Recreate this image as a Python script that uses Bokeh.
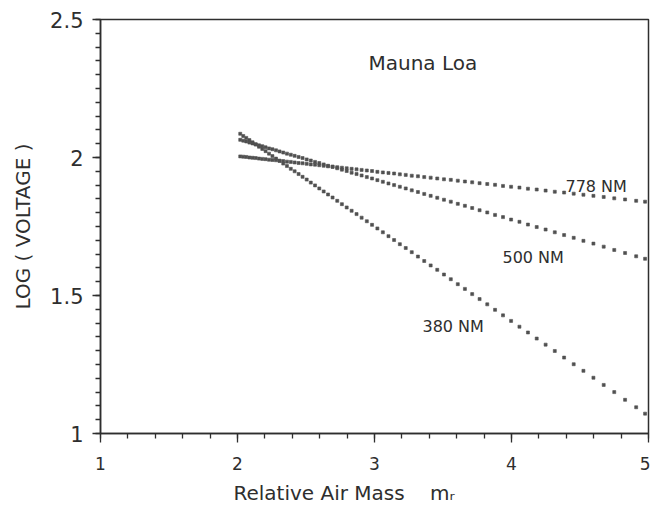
from bokeh.plotting import figure
from bokeh.models import Range1d, SingleIntervalTicker, FixedTicker, Label, Title
from bokeh.embed import file_html
from bokeh.resources import INLINE

# Relative air mass of each observation (x)
air_mass = [2.020, 2.042, 2.064, 2.087, 2.110, 2.133, 2.157, 2.181, 2.205, 2.230,
            2.255, 2.281, 2.307, 2.334, 2.361, 2.389, 2.417, 2.446, 2.475, 2.505,
            2.535, 2.566, 2.597, 2.629, 2.661, 2.694, 2.728, 2.762, 2.797, 2.833,
            2.869, 2.906, 2.944, 2.982, 3.021, 3.061, 3.102, 3.143, 3.185, 3.228,
            3.272, 3.317, 3.363, 3.410, 3.458, 3.507, 3.557, 3.608, 3.660, 3.713,
            3.767, 3.823, 3.880, 3.938, 3.997, 4.058, 4.120, 4.184, 4.249, 4.316,
            4.384, 4.454, 4.525, 4.598, 4.673, 4.750, 4.829, 4.910, 4.975]

# log(voltage) at 380 nm
log_v_380 = [2.086, 2.078, 2.071, 2.063, 2.055, 2.047, 2.039, 2.031, 2.023, 2.014,
             2.005, 1.996, 1.988, 1.978, 1.969, 1.959, 1.950, 1.940, 1.930, 1.920,
             1.909, 1.899, 1.888, 1.877, 1.866, 1.855, 1.843, 1.831, 1.819, 1.807,
             1.795, 1.782, 1.769, 1.756, 1.743, 1.729, 1.715, 1.701, 1.686, 1.672,
             1.657, 1.641, 1.625, 1.609, 1.593, 1.576, 1.559, 1.541, 1.524, 1.505,
             1.487, 1.468, 1.448, 1.428, 1.408, 1.387, 1.366, 1.344, 1.322, 1.299,
             1.275, 1.251, 1.227, 1.202, 1.176, 1.150, 1.122, 1.095, 1.072]

# log(voltage) at 500 nm
log_v_500 = [2.064, 2.061, 2.058, 2.054, 2.051, 2.048, 2.044, 2.041, 2.037, 2.033,
             2.030, 2.026, 2.022, 2.018, 2.014, 2.010, 2.006, 2.002, 1.998, 1.993,
             1.989, 1.984, 1.980, 1.975, 1.970, 1.966, 1.961, 1.956, 1.951, 1.945,
             1.940, 1.935, 1.929, 1.924, 1.918, 1.912, 1.906, 1.900, 1.894, 1.888,
             1.881, 1.875, 1.868, 1.861, 1.854, 1.847, 1.840, 1.832, 1.825, 1.817,
             1.809, 1.801, 1.792, 1.784, 1.775, 1.767, 1.757, 1.748, 1.739, 1.729,
             1.719, 1.709, 1.698, 1.688, 1.677, 1.665, 1.654, 1.642, 1.633]

# log(voltage) at 778 nm
log_v_778 = [2.004, 2.003, 2.002, 2.000, 1.999, 1.998, 1.996, 1.995, 1.994, 1.992,
             1.991, 1.990, 1.988, 1.987, 1.985, 1.984, 1.982, 1.980, 1.979, 1.977,
             1.975, 1.974, 1.972, 1.970, 1.968, 1.967, 1.965, 1.963, 1.961, 1.959,
             1.957, 1.955, 1.953, 1.951, 1.948, 1.946, 1.944, 1.942, 1.939, 1.937,
             1.934, 1.932, 1.929, 1.927, 1.924, 1.921, 1.919, 1.916, 1.913, 1.910,
             1.907, 1.904, 1.901, 1.897, 1.894, 1.891, 1.887, 1.884, 1.880, 1.876,
             1.873, 1.869, 1.865, 1.861, 1.857, 1.852, 1.848, 1.843, 1.840]

series_names = ["380 NM", "500 NM", "778 NM"]
x_ticks = [1, 2, 3, 4, 5]
y_ticks = [1.0, 1.5, 2.0, 2.5]
y_tick_labels = ["1", "1.5", "2", "2.5"]
site_name = "Mauna Loa"
x_title = "Relative Air Mass\u00a0\u00a0\u00a0\u00a0m\u1d63"
y_title = "LOG ( VOLTAGE )"

FONT = "DejaVu Sans"
INK = "#2e2e2e"
DOT = "#505050"

p = figure(width=650, height=511, output_backend="svg", toolbar_location=None,
           x_range=Range1d(1, 5), y_range=Range1d(1, 2.5),
           min_border_left=100, min_border_right=2, min_border_top=19,
           min_border_bottom=76)

p.background_fill_color = "white"
p.border_fill_color = "white"
p.outline_line_color = INK
p.outline_line_width = 1.5
p.grid.visible = False

# x axis
xa = p.xaxis[0]
xa.ticker = FixedTicker(ticks=x_ticks,
                        minor_ticks=[1 + 0.2 * i for i in range(21)])
xa.axis_line_color = INK
xa.axis_line_width = 1.5
xa.major_tick_line_color = INK
xa.minor_tick_line_color = INK
xa.major_tick_line_width = 1.3
xa.minor_tick_line_width = 1.3
xa.major_tick_out = 9
xa.major_tick_in = 0
xa.minor_tick_out = 5
xa.minor_tick_in = 0
xa.major_label_text_font = FONT
xa.major_label_text_font_size = "17px"
xa.major_label_text_color = INK
xa.major_label_standoff = 14

# y axis
ya = p.yaxis[0]
ya.ticker = SingleIntervalTicker(interval=0.5, num_minor_ticks=10)
ya.major_label_overrides = {t: s for t, s in zip(y_ticks, y_tick_labels)}
ya.axis_line_color = INK
ya.axis_line_width = 1.5
ya.major_tick_line_color = INK
ya.minor_tick_line_color = INK
ya.major_tick_line_width = 1.3
ya.minor_tick_line_width = 1.3
ya.major_tick_out = 8
ya.major_tick_in = 0
ya.minor_tick_out = 5
ya.minor_tick_in = 0
ya.major_label_text_font = FONT
ya.major_label_text_font_size = "21px"
ya.major_label_text_color = INK
ya.major_label_standoff = 9
ya.axis_label = y_title
ya.axis_label_text_font = FONT
ya.axis_label_text_font_size = "20px"
ya.axis_label_text_font_style = "normal"
ya.axis_label_text_color = INK
ya.axis_label_standoff = 12

# dotted series
for ys in (log_v_380, log_v_500, log_v_778):
    p.scatter(air_mass, ys, marker="square", size=3,
              fill_color=DOT, line_color=DOT, line_width=0.6)

# series labels
label_pos = [(3.350, 1.386), (3.934, 1.638), (4.394, 1.895)]
for name, (lx, ly) in zip(series_names, label_pos):
    p.add_layout(Label(x=lx, y=ly, text=name, text_font=FONT,
                       text_font_size="16px", text_color=INK,
                       text_baseline="alphabetic"))

p.add_layout(Label(x=2.956, y=2.342, text=site_name, text_font=FONT,
                   text_font_size="20px", text_color=INK,
                   text_baseline="alphabetic"))

# x axis title (left-aligned, offset like the reference)
p.add_layout(Title(text=x_title, align="left", offset=133, standoff=13,
                   text_font=FONT, text_font_size="20px",
                   text_font_style="normal", text_color=INK), "below")

open("out.html", "w").write(file_html(p, INLINE))
